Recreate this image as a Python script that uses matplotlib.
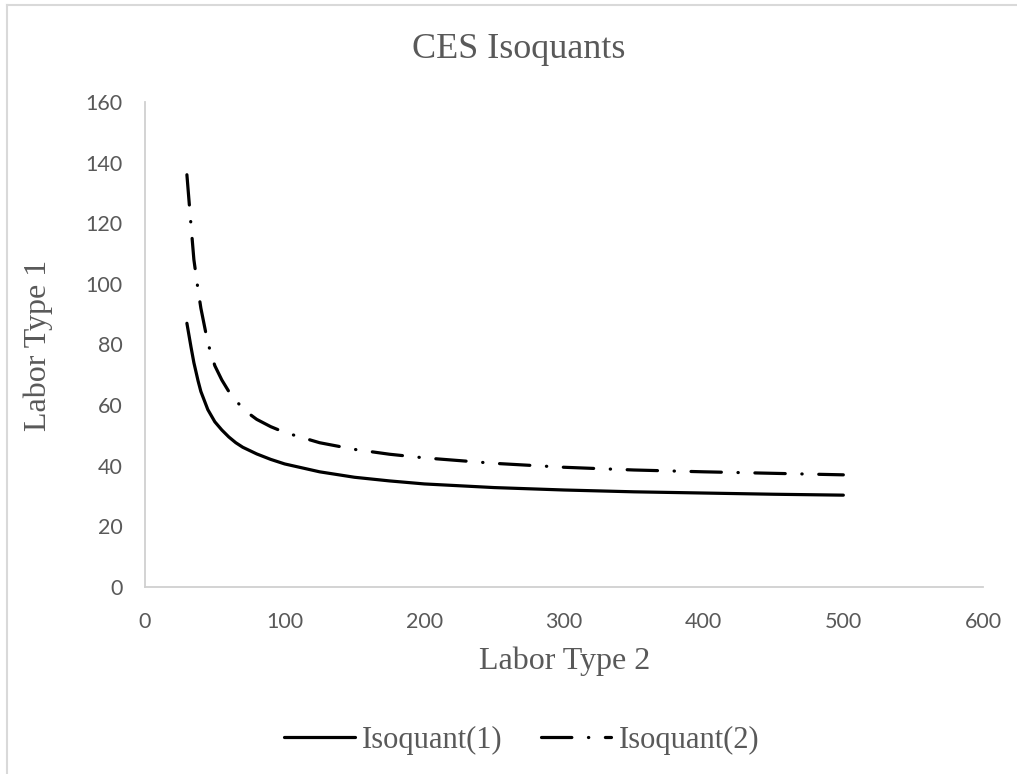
import matplotlib
matplotlib.use("Agg")
import matplotlib.pyplot as plt
from matplotlib.lines import Line2D

# values
labor2 = [30, 33, 35, 38, 40, 45, 50, 55, 60, 65, 70, 75, 80, 90, 100, 125, 150, 175,
          200, 250, 300, 350, 400, 450, 500]
isoquant1 = [87, 79, 74, 68, 64.5, 58.5, 54.5, 51.8, 49.5, 47.6, 46.1, 45, 43.9, 42.1,
             40.6, 38, 36.2, 35, 34, 32.8, 32, 31.4, 31, 30.6, 30.3]
isoquant2 = [136, 119, 108, 98, 92, 80.5, 73, 68.3, 64.5, 61.5, 59, 57, 55.3, 52.9,
             51, 47.6, 45.4, 43.8, 42.6, 40.8, 39.5, 38.6, 38, 37.5, 37]

x_ticks = [0, 100, 200, 300, 400, 500, 600]
y_ticks = [0, 20, 40, 60, 80, 100, 120, 140, 160]

gray = "#595959"
serif = "Liberation Serif"
sans = "Lato"

fig = plt.figure(figsize=(10.17, 7.74), dpi=100)
ax = fig.add_axes([145 / 1017, 1 - 587 / 774, (983 - 145) / 1017, (587 - 102) / 774])

ax.plot(labor2, isoquant1, color="black", lw=2.3, solid_capstyle="round",
        solid_joinstyle="round", label="Isoquant(1)")
ax.plot(labor2, isoquant2, color="black", lw=2.3, dashes=(9.5, 5.2, 0.1, 5.2),
        dash_capstyle="round", dash_joinstyle="round", label="Isoquant(2)")

ax.set_xlim(0, 600)
ax.set_ylim(0, 160)
ax.set_xticks(x_ticks)
ax.set_yticks(y_ticks)
ax.tick_params(length=0, labelsize=15.5, labelcolor=gray)
ax.tick_params(axis="y", pad=16)
ax.tick_params(axis="x", pad=18)
for lab in ax.get_xticklabels() + ax.get_yticklabels():
    lab.set_family(sans)

for s in ["top", "right"]:
    ax.spines[s].set_visible(False)
for s in ["left", "bottom"]:
    ax.spines[s].set_color("#d0d0d0")
    ax.spines[s].set_linewidth(1.3)

fig.text(519 / 1017, 1 - 50 / 774, "CES Isoquants", ha="center", va="center",
         fontsize=26, color=gray, family=serif)
fig.text(565 / 1017, 1 - 661 / 774, "Labor Type 2", ha="center", va="center",
         fontsize=23, color=gray, family=serif)
fig.text(38 / 1017, 1 - 345 / 774, "Labor Type 1", ha="center", va="center",
         rotation=90, fontsize=23, color=gray, family=serif)

leg = fig.legend(loc="center", bbox_to_anchor=(522 / 1017, 1 - 740 / 774), ncol=2,
                 frameon=False, prop={"family": serif, "size": 22},
                 handlelength=2.3, handletextpad=0.25, columnspacing=1.25)
for t in leg.get_texts():
    t.set_color(gray)

# chart area border (only left and top visible in the crop)
fig.add_artist(Line2D([7 / 1017, 7 / 1017], [0, 1 - 5 / 774], transform=fig.transFigure,
                      color="#d9d9d9", lw=1.5))
fig.add_artist(Line2D([7 / 1017, 1], [1 - 5 / 774, 1 - 5 / 774], transform=fig.transFigure,
                      color="#d9d9d9", lw=1.5))

fig.savefig("out.png", dpi=100)
